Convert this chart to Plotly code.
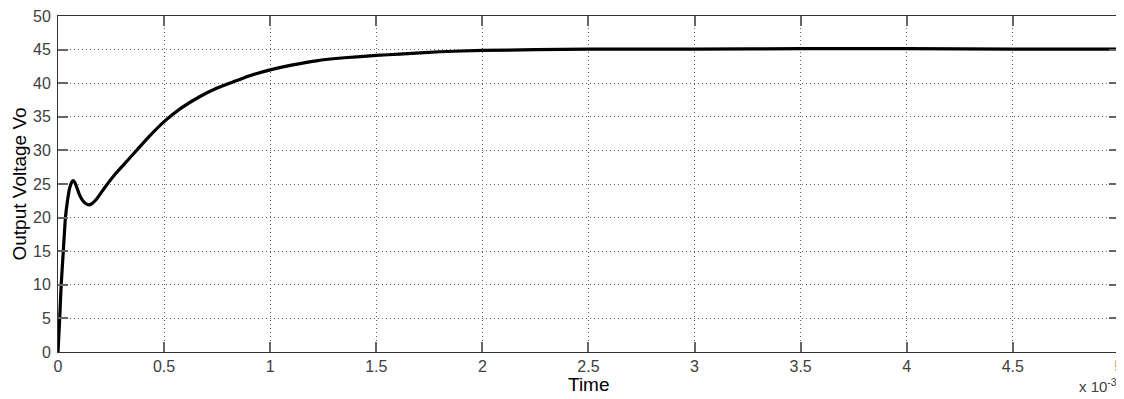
import plotly.graph_objects as go

# Time in units of 1e-3 s (ms), output voltage Vo
time_ms = [0, 0.008, 0.015, 0.025, 0.035, 0.045, 0.055, 0.065, 0.072, 0.08, 0.09,
           0.10, 0.115, 0.13, 0.145, 0.16, 0.18, 0.205, 0.235, 0.27, 0.31, 0.37,
           0.43, 0.5, 0.58, 0.667, 0.75, 0.824, 0.9, 1.0, 1.1, 1.217, 1.35, 1.5,
           1.61, 1.8, 2.0, 2.25, 2.5, 3.0, 3.5, 4.0, 4.5, 5.0]
vo = [0, 5, 10, 15, 20, 22.6, 24.4, 25.3, 25.5, 25.2, 24.4,
      23.5, 22.6, 22.1, 21.9, 22.1, 22.7, 23.8, 25.1, 26.5, 27.9, 30.0,
      32.1, 34.3, 36.3, 38.0, 39.3, 40.2, 41.1, 42.0, 42.7, 43.35, 43.8, 44.15,
      44.35, 44.7, 44.9, 45.0, 45.1, 45.1, 45.15, 45.15, 45.1, 45.1]

x_ticks = [0, 0.5, 1, 1.5, 2, 2.5, 3, 3.5, 4, 4.5, 5]
x_tick_labels = ["0", "0.5", "1", "1.5", "2", "2.5", "3", "3.5", "4", "4.5", "5"]
y_ticks = [0, 5, 10, 15, 20, 25, 30, 35, 40, 45, 50]

FONT = "Arial, Liberation Sans, sans-serif"

fig = go.Figure()
fig.add_trace(go.Scatter(x=time_ms, y=vo, mode="lines",
                         line=dict(color="black", width=3.2, shape="spline", smoothing=0.4),
                         showlegend=False, hoverinfo="skip"))

axis_common = dict(
    showgrid=True, gridcolor="#666666", griddash="1px,3px", gridwidth=1,
    zeroline=False, showline=True, linecolor="#333333", linewidth=1,
    mirror="allticks", ticks="inside", ticklen=10, tickcolor="#666666",
    tickwidth=1.5, automargin=False, ticklabeloverflow="allow",
    tickfont=dict(family=FONT, size=16, color="#404040"),
)

# The page body adds an 8px offset at top-left, so the figure is sized to fill the rest.
fig.update_layout(
    width=1116, height=391,
    margin=dict(l=50, r=5, t=8, b=47),
    paper_bgcolor="white", plot_bgcolor="white",
    xaxis=dict(range=[0, 5.0005], tickvals=x_ticks, ticktext=x_tick_labels,
               **axis_common),
    yaxis=dict(range=[0, 50.02], tickvals=y_ticks, ticklabelstandoff=3,
               **axis_common),
    annotations=[
        dict(text="Time", xref="paper", yref="paper", x=0.5, y=-0.098,
             xanchor="center", yanchor="middle", showarrow=False,
             font=dict(family=FONT, size=19, color="black")),
        dict(text="Output Voltage Vo", xref="paper", yref="paper", x=-0.0372, y=0.5,
             xanchor="center", yanchor="middle", textangle=-90, showarrow=False,
             font=dict(family=FONT, size=19, color="black")),
        dict(text="x 10<sup>-3</sup>", xref="paper", yref="paper",
             x=1.0, y=-0.135, xanchor="right", yanchor="bottom", showarrow=False,
             font=dict(family=FONT, size=15, color="#404040")),
    ],
)

fig.write_html("out.html")
